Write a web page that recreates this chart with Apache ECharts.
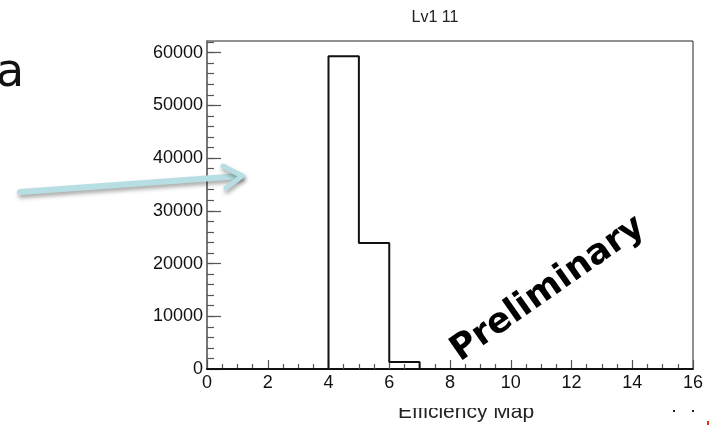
<!DOCTYPE html>
<html>
<head>
<meta charset="utf-8">
<script src="https://cdn.jsdelivr.net/npm/echarts@6/dist/echarts.min.js"></script>
<style>
  html, body { margin: 0; padding: 0; background: #fff; }
  #chart { width: 709px; height: 425px; }
</style>
</head>
<body>
<div id="chart"></div>
<script>
// Histogram "Lv1 11": 16 unit-wide bins over the efficiency map index
const binEdges = [0, 1, 2, 3, 4, 5, 6, 7, 8, 9, 10, 11, 12, 13, 14, 15, 16];
const binCounts = [0, 0, 0, 0, 59300, 23900, 1320, 0, 0, 0, 0, 0, 0, 0, 0, 0];
const yLabelValues = [0, 10000, 20000, 30000, 40000, 50000, 60000];
const xLabelValues = [0, 2, 4, 6, 8, 10, 12, 14, 16];
const yMax = 62200;

// step outline: one point per bin low edge plus the closing edge
const stepData = binCounts.map((c, i) => [binEdges[i], c]);
stepData.push([binEdges[binEdges.length - 1], 0]);

const yMinorValues = [];
for (let v = 2000; v < yMax; v += 2000) yMinorValues.push(v);

const chart = echarts.init(document.getElementById('chart'), null, { renderer: 'canvas' });
const FONT = '"Liberation Sans", Arial, sans-serif';

chart.setOption({
  animation: false,
  backgroundColor: '#fff',
  title: {
    text: 'Lv1 11',
    left: 430, top: 5, textAlign: 'center',
    textStyle: { fontFamily: FONT, fontSize: 16, fontWeight: 'normal', color: '#222' }
  },
  grid: {
    left: 207, right: 16, top: 41, bottom: 56,
    show: true, borderColor: '#222', borderWidth: 1, backgroundColor: 'transparent'
  },
  xAxis: {
    type: 'value', min: 0, max: 16, interval: 2,
    axisLine: { show: true, onZero: false, lineStyle: { color: '#111', width: 2 } },
    axisTick: { show: true, inside: true, length: 9, lineStyle: { color: '#555', width: 1.2 } },
    minorTick: { show: true, splitNumber: 4, length: 5, lineStyle: { color: '#555', width: 1.2 } },
    splitLine: { show: false },
    axisLabel: {
      customValues: xLabelValues,
      formatter: v => String(v),
      margin: 5, fontFamily: FONT, fontSize: 18, color: '#111'
    }
  },
  yAxis: [{
    type: 'value', min: 0, max: yMax, interval: 10000,
    axisLine: { show: true, lineStyle: { color: '#777', width: 2 } },
    axisTick: { show: true, inside: true, length: 14, customValues: yLabelValues, lineStyle: { color: '#555', width: 1.2 } },
    splitLine: { show: false },
    axisLabel: {
      customValues: yLabelValues,
      formatter: v => String(v),
      margin: 4, fontFamily: FONT, fontSize: 18, color: '#111'
    }
  }, {
    type: 'value', min: 0, max: yMax, position: 'left',
    axisLine: { show: false },
    axisTick: { show: true, inside: true, length: 7, customValues: yMinorValues, lineStyle: { color: '#555', width: 1.2 } },
    splitLine: { show: false },
    axisLabel: { show: false }
  }],
  series: [{
    type: 'line',
    step: 'end',
    data: stepData,
    symbol: 'none',
    lineStyle: { color: '#111', width: 2 },
    z: 5
  }],
  graphic: [
    // axis title, partly hidden under the band above it
    {
      type: 'text', x: 466, y: 423, z: 10,
      style: { text: 'Efficiency Map', fill: '#222', font: '21px ' + FONT, textAlign: 'center', textVerticalAlign: 'bottom' }
    },
    { type: 'rect', shape: { x: 380, y: 394, width: 180, height: 14 }, style: { fill: '#fff' }, z: 11 },
    // stamp across the plot
    {
      type: 'text', x: 548, y: 289, rotation: 35 * Math.PI / 180, z: 12,
      style: {
        text: 'Preliminary', fill: '#000',
        font: 'bold 35px "DejaVu Sans", sans-serif',
        textAlign: 'center', textVerticalAlign: 'middle'
      }
    },
    // leftover slide text
    {
      type: 'text', x: -4, y: 97, z: 12,
      style: { text: 'a', fill: '#111', font: '46px "DejaVu Sans", sans-serif', textAlign: 'left', textVerticalAlign: 'bottom' }
    },
    // pointer arrow
    {
      type: 'polyline', z: 12,
      shape: { points: [[20, 192], [241, 176]] },
      style: { stroke: '#b7dfe3', lineWidth: 6, lineCap: 'round', shadowBlur: 4, shadowColor: 'rgba(0,0,0,0.35)', shadowOffsetY: 3, shadowOffsetX: 1 }
    },
    {
      type: 'polyline', z: 12,
      shape: { points: [[223, 166], [242, 176], [226, 188]] },
      style: { stroke: '#b7dfe3', lineWidth: 5, lineCap: 'round', lineJoin: 'round', fill: null, shadowBlur: 4, shadowColor: 'rgba(0,0,0,0.35)', shadowOffsetY: 3, shadowOffsetX: 1 }
    },
    // small marks at the lower right
    { type: 'rect', shape: { x: 673, y: 410, width: 2, height: 2 }, style: { fill: '#222' }, z: 12 },
    { type: 'rect', shape: { x: 692, y: 410, width: 2, height: 2 }, style: { fill: '#222' }, z: 12 },
    { type: 'rect', shape: { x: 707, y: 421, width: 2, height: 4 }, style: { fill: '#f03010' }, z: 12 }
  ]
});
</script>
</body>
</html>
